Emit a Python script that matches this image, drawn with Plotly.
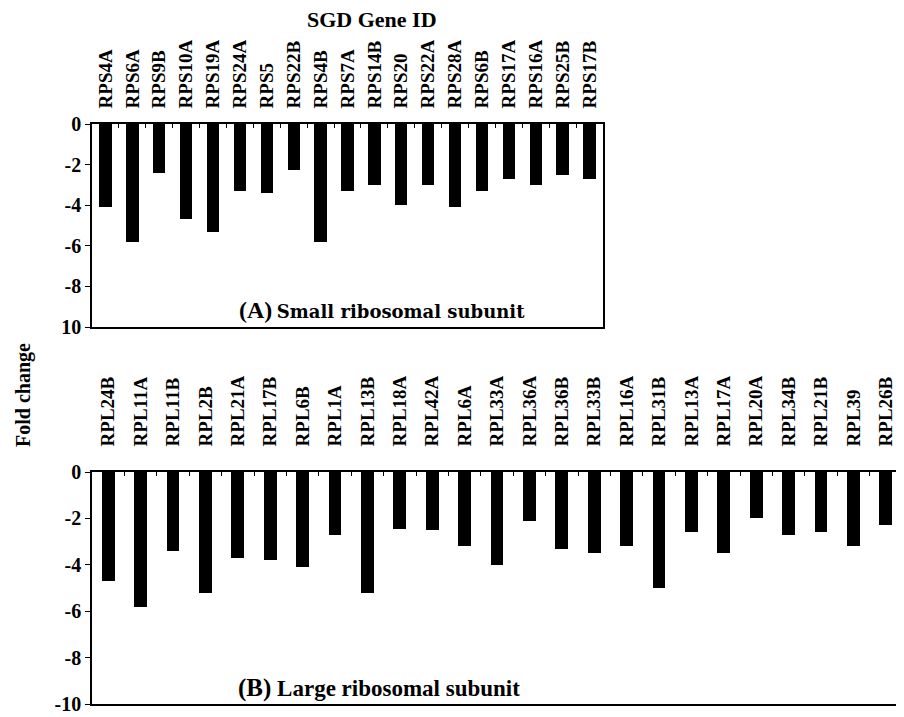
import plotly.graph_objects as go

# ---- data ----
small_genes = ["RPS4A", "RPS6A", "RPS9B", "RPS10A", "RPS19A", "RPS24A", "RPS5", "RPS22B",
               "RPS4B", "RPS7A", "RPS14B", "RPS20", "RPS22A", "RPS28A", "RPS6B", "RPS17A",
               "RPS16A", "RPS25B", "RPS17B"]
small_fold = [-4.1, -5.8, -2.4, -4.7, -5.3, -3.3, -3.4, -2.25, -5.8, -3.3, -3.0, -4.0,
              -3.0, -4.1, -3.3, -2.7, -3.0, -2.5, -2.7]

large_genes = ["RPL24B", "RPL11A", "RPL11B", "RPL2B", "RPL21A", "RPL17B", "RPL6B", "RPL1A",
               "RPL13B", "RPL18A", "RPL42A", "RPL6A", "RPL33A", "RPL36A", "RPL36B", "RPL33B",
               "RPL16A", "RPL31B", "RPL13A", "RPL17A", "RPL20A", "RPL34B", "RPL21B", "RPL39",
               "RPL26B"]
large_fold = [-4.7, -5.8, -3.4, -5.2, -3.7, -3.8, -4.1, -2.7, -5.2, -2.45, -2.5, -3.2,
              -4.0, -2.1, -3.3, -3.5, -3.2, -5.0, -2.6, -3.5, -2.0, -2.7, -2.6, -3.2, -2.3]

y_ticks = [0, -2, -4, -6, -8, -10]
y_ticktext_top = ["0", "-2", "-4", "-6", "-8", "10"]
y_ticktext_bottom = ["0", "-2", "-4", "-6", "-8", "-10"]

# page body has an 8px margin: figure is drawn from (8, 8) of the window
OFF = 8
W, H = 904 - OFF, 717 - OFF
SERIF = "Liberation Serif, Times New Roman, serif"

def px(x):
    return (x - OFF) / W

def py(y):
    return 1 - (y - OFF) / H

fig = go.Figure()
fig.add_trace(go.Bar(x=small_genes, y=small_fold, marker=dict(color="black", line=dict(width=0)),
                     width=0.46, xaxis="x", yaxis="y", showlegend=False))
fig.add_trace(go.Bar(x=large_genes, y=large_fold, marker=dict(color="black", line=dict(width=0)),
                     width=0.40, xaxis="x2", yaxis="y2", showlegend=False))

xcommon = dict(side="top", type="category", tickangle=-90, showline=True, mirror=True,
               linecolor="black", linewidth=1.6, ticks="inside", tickson="boundaries",
               ticklen=4, tickcolor="black", showgrid=False, zeroline=False, automargin=False,
               tickfont=dict(family=SERIF, size=19, color="black", weight="bold"))
ycommon = dict(range=[-10, 0], tickvals=y_ticks, showline=True, mirror=True,
               linecolor="black", linewidth=1.6, ticks="outside", ticklen=5,
               tickcolor="black", showgrid=False, zeroline=False, automargin=False,
               tickfont=dict(family=SERIF, size=20, color="black", weight="bold"))

fig.update_layout(
    template="none",
    width=W, height=H,
    margin=dict(l=0, r=0, t=0, b=0, pad=0),
    paper_bgcolor="white", plot_bgcolor="white",
    bargap=0,
    xaxis=dict(domain=[px(92), px(603)], anchor="y", ticklabelstandoff=10, **xcommon),
    yaxis=dict(domain=[py(327), py(124)], anchor="x", ticktext=y_ticktext_top, **ycommon),
    xaxis2=dict(domain=[px(92), px(902)], anchor="y2", ticklabelstandoff=20, **xcommon),
    yaxis2=dict(domain=[py(704), py(472)], anchor="x2", ticktext=y_ticktext_bottom, **ycommon),
    annotations=[
        dict(text="SGD Gene ID", x=px(372), y=py(20), xref="paper", yref="paper",
             xanchor="center", yanchor="middle", showarrow=False,
             font=dict(family=SERIF, size=22, color="black", weight="bold")),
        dict(text="Fold change", x=px(23), y=py(395), xref="paper", yref="paper", textangle=-90,
             xanchor="center", yanchor="middle", showarrow=False,
             font=dict(family=SERIF, size=20, color="black", weight="bold")),
        dict(text="<span style='font-size:24px'>(A)</span> <span style='font-family:DejaVu Serif'>Small ribosomal subunit</span>",
             x=px(237), y=py(310), xref="paper", yref="paper", xanchor="left", yanchor="middle",
             showarrow=False, font=dict(family=SERIF, size=18, color="black", weight="bold")),
        dict(text="<span style='font-size:25px'>(B)</span> Large ribosomal subunit",
             x=px(236), y=py(688), xref="paper", yref="paper", xanchor="left", yanchor="middle",
             showarrow=False, font=dict(family=SERIF, size=23, color="black", weight="bold")),
    ],
)

fig.write_html("out.html")
